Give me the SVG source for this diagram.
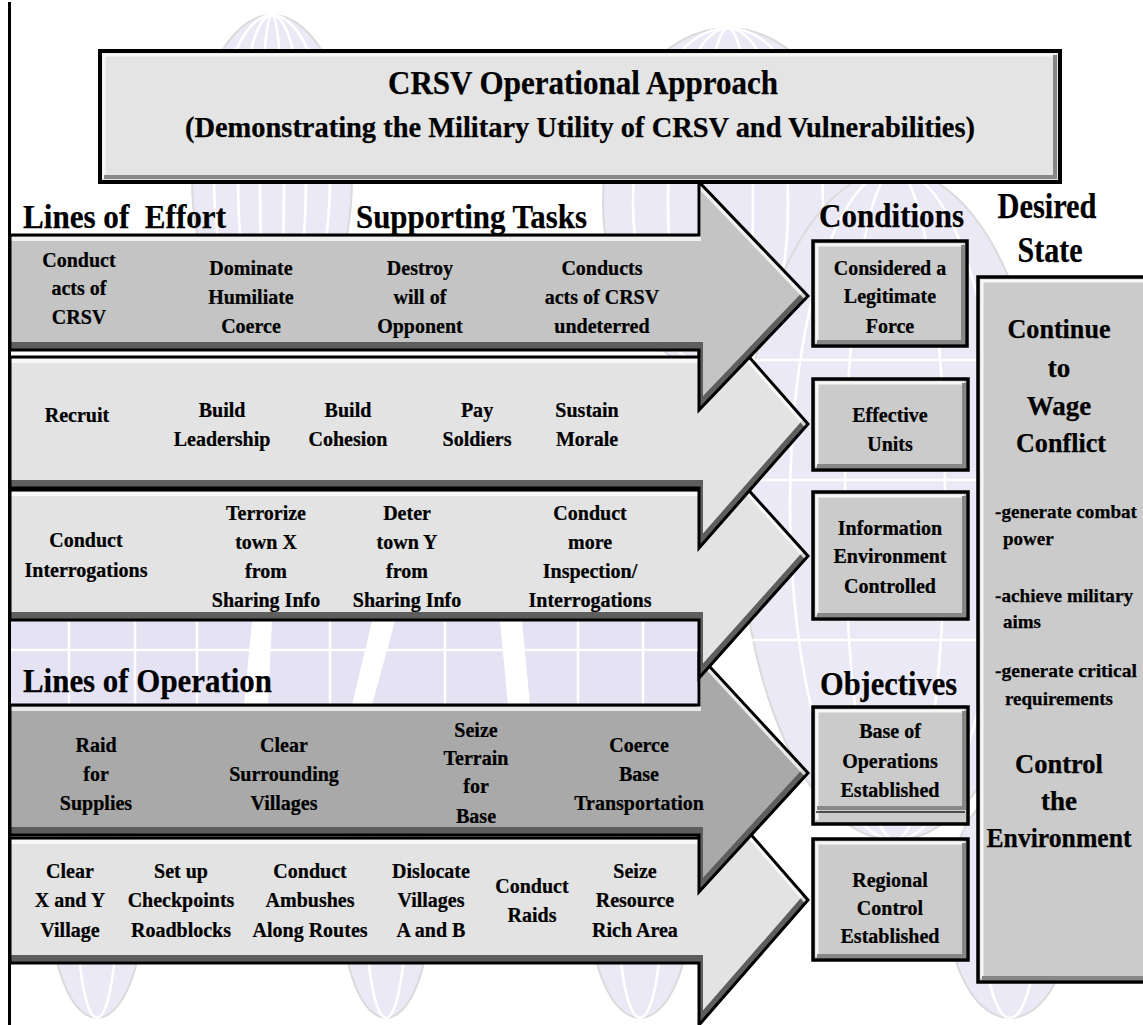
<svg xmlns="http://www.w3.org/2000/svg" width="1143" height="1025" viewBox="0 0 1143 1025">
<style>
.t{font-family:"Liberation Serif","Times New Roman",serif;font-weight:bold;fill:#000;stroke:#000;stroke-width:0.25;text-anchor:middle}
.s22{font-size:22px}
.hd{font-size:34px;text-anchor:start}
.ds{font-size:27px}
.sm{font-size:19px;text-anchor:start}
.ol{fill:none;stroke:#000;stroke-width:3;stroke-linejoin:miter}
.sh{fill:none;stroke:#5e5e5e;stroke-width:8}
.hl{fill:none;stroke:#fff;stroke-opacity:.75;stroke-width:4}
.lav{fill:#ece9f7;stroke:#dadada;stroke-width:2}
.wl{fill:none;stroke:#fff;stroke-width:2.5}
.box{fill:#cbcbcb;stroke:#000;stroke-width:3.5}
.bhl{fill:none;stroke:#f7f7f7;stroke-width:3}
.bsh{fill:none;stroke:#878787;stroke-width:4}
</style>
<defs>
<polygon id="p1" points="10,235 699,235 699,182 808,296 699,410 699,350 10,350"/>
<polygon id="p2" points="10,357 699,357 699,300 808,424 699,548 699,488 10,488"/>
<polygon id="p3" points="10,490 699,490 699,435 808,556 699,678 699,620 10,620"/>
<polygon id="p4" points="10,705 699,705 699,655 808,773 699,892 699,835 10,835"/>
<polygon id="p5" points="10,838 699,838 699,775 808,900 699,1025 699,963 10,963"/>
<clipPath id="c1"><use href="#p1"/></clipPath>
<clipPath id="c2"><use href="#p2"/></clipPath>
<clipPath id="c3"><use href="#p3"/></clipPath>
<clipPath id="c4"><use href="#p4"/></clipPath>
<clipPath id="c5"><use href="#p5"/></clipPath>
</defs>
<rect x="0" y="0" width="1143" height="1025" fill="#fff"/>
<g id="watermark">
<ellipse class="lav" cx="272" cy="178" rx="80" ry="163"/>
<ellipse class="wl" cx="272" cy="178" rx="58" ry="163"/>
<ellipse class="wl" cx="272" cy="178" rx="34" ry="163"/>
<ellipse class="wl" cx="272" cy="178" rx="12" ry="163"/>
<ellipse class="lav" cx="728" cy="202" rx="125" ry="174"/>
<ellipse class="wl" cx="728" cy="202" rx="95" ry="174"/>
<ellipse class="wl" cx="728" cy="202" rx="60" ry="174"/>
<ellipse class="wl" cx="728" cy="202" rx="25" ry="174"/>
<ellipse class="lav" cx="895" cy="505" rx="155" ry="335" fill="#e6e3f4"/>
<ellipse class="wl" cx="895" cy="505" rx="105" ry="335"/>
<ellipse class="wl" cx="895" cy="505" rx="50" ry="335"/>
<line class="wl" x1="740" y1="360" x2="1050" y2="360"/>
<line class="wl" x1="740" y1="480" x2="1050" y2="480"/>
<line class="wl" x1="740" y1="640" x2="1050" y2="640"/>
<rect x="10" y="621" width="689" height="84" fill="#e5e2f3"/>
<line class="wl" x1="10" y1="650" x2="699" y2="650"/>
<line class="wl" x1="69" y1="621" x2="69" y2="705"/>
<line class="wl" x1="135" y1="621" x2="135" y2="705"/>
<line class="wl" x1="197" y1="621" x2="197" y2="705"/>
<line class="wl" x1="330" y1="621" x2="330" y2="705"/>
<line class="wl" x1="445" y1="621" x2="445" y2="705"/>
<line class="wl" x1="578" y1="621" x2="578" y2="705"/>
<line class="wl" x1="643" y1="621" x2="643" y2="705"/>
<polygon points="252,621 272,621 268,705 244,705" fill="#fff"/>
<polygon points="372,621 395,621 372,705 352,705" fill="#fff"/>
<polygon points="500,621 522,621 530,705 508,705" fill="#fff"/>
<ellipse class="lav" cx="97" cy="905" rx="46" ry="113"/>
<ellipse class="wl" cx="97" cy="905" rx="20" ry="113"/>
<ellipse class="lav" cx="386" cy="905" rx="44" ry="113"/>
<ellipse class="wl" cx="386" cy="905" rx="20" ry="113"/>
<ellipse class="lav" cx="640" cy="905" rx="50" ry="113"/>
<ellipse class="wl" cx="640" cy="905" rx="22" ry="113"/>
<ellipse class="lav" cx="1010" cy="905" rx="62" ry="113"/>
<ellipse class="wl" cx="1010" cy="905" rx="28" ry="113"/>
</g>
<g id="connectors">
<g id="arrow-5">
<use href="#p5" fill="#e3e3e3"/>
<g clip-path="url(#c5)">
<path class="sh" d="M10,963 H699 V1025 L808,900" transform="translate(0,-4)"/>
<path class="hl" d="M10,838 H699 V775 L808,900" transform="translate(0,4)"/>
</g>
<use href="#p5" class="ol"/>
</g>
<g id="arrow-4">
<use href="#p4" fill="#a9a9a9"/>
<g clip-path="url(#c4)">
<path class="sh" d="M10,835 H699 V892 L808,773" transform="translate(0,-4)"/>
<path class="hl" d="M10,705 H699 V655 L808,773" transform="translate(0,4)"/>
</g>
<use href="#p4" class="ol"/>
</g>
<g id="arrow-3">
<use href="#p3" fill="#e3e3e3"/>
<g clip-path="url(#c3)">
<path class="sh" d="M10,620 H699 V678 L808,556" transform="translate(0,-4)"/>
<path class="hl" d="M10,490 H699 V435 L808,556" transform="translate(0,4)"/>
</g>
<use href="#p3" class="ol"/>
</g>
<g id="arrow-2">
<use href="#p2" fill="#e3e3e3"/>
<g clip-path="url(#c2)">
<path class="sh" d="M10,488 H699 V548 L808,424" transform="translate(0,-4)"/>
<path class="hl" d="M10,357 H699 V300 L808,424" transform="translate(0,4)"/>
</g>
<use href="#p2" class="ol"/>
</g>
<g id="arrow-1">
<use href="#p1" fill="#c4c4c4"/>
<g clip-path="url(#c1)">
<path class="sh" d="M10,350 H699 V410 L808,296" transform="translate(0,-4)"/>
<path class="hl" d="M10,235 H699 V182 L808,296" transform="translate(0,4)"/>
</g>
<use href="#p1" class="ol"/>
</g>
</g>
<line x1="9.5" y1="2" x2="9.5" y2="1025" stroke="#000" stroke-width="3"/>

<g id="row1-tasks" class="t s22" transform="scale(0.91,1)">
<text x="86.8" y="267">Conduct</text><text x="86.8" y="295">acts of</text><text x="86.8" y="324">CRSV</text>
<text x="275.8" y="275">Dominate</text><text x="275.8" y="304">Humiliate</text><text x="275.8" y="333">Coerce</text>
<text x="461.5" y="275">Destroy</text><text x="461.5" y="304">will of</text><text x="461.5" y="333">Opponent</text>
<text x="661.5" y="275">Conducts</text><text x="661.5" y="304">acts of CRSV</text><text x="661.5" y="333">undeterred</text>
</g>
<g id="row2-tasks" class="t s22" transform="scale(0.91,1)">
<text x="84.6" y="422">Recruit</text>
<text x="244" y="417">Build</text><text x="244" y="446">Leadership</text>
<text x="382.4" y="417">Build</text><text x="382.4" y="446">Cohesion</text>
<text x="524.2" y="417">Pay</text><text x="524.2" y="446">Soldiers</text>
<text x="645.1" y="417">Sustain</text><text x="645.1" y="446">Morale</text>
</g>
<g id="row3-tasks" class="t s22" transform="scale(0.91,1)">
<text x="94.5" y="547">Conduct</text><text x="94.5" y="577">Interrogations</text>
<text x="292.3" y="520">Terrorize</text><text x="292.3" y="549">town X</text><text x="292.3" y="578">from</text><text x="292.3" y="607">Sharing Info</text>
<text x="447.3" y="520">Deter</text><text x="447.3" y="549">town Y</text><text x="447.3" y="578">from</text><text x="447.3" y="607">Sharing Info</text>
<text x="648.4" y="520">Conduct</text><text x="648.4" y="549">more</text><text x="648.4" y="578">Inspection/</text><text x="648.4" y="607">Interrogations</text>
</g>
<g id="row4-tasks" class="t s22" transform="scale(0.91,1)">
<text x="105.5" y="752">Raid</text><text x="105.5" y="781">for</text><text x="105.5" y="810">Supplies</text>
<text x="312.1" y="752">Clear</text><text x="312.1" y="781">Surrounding</text><text x="312.1" y="810">Villages</text>
<text x="523.1" y="737">Seize</text><text x="523.1" y="765">Terrain</text><text x="523.1" y="793">for</text><text x="523.1" y="823">Base</text>
<text x="702.2" y="752">Coerce</text><text x="702.2" y="781">Base</text><text x="702.2" y="810">Transportation</text>
</g>
<g id="row5-tasks" class="t s22" transform="scale(0.91,1)">
<text x="76.9" y="878">Clear</text><text x="76.9" y="907">X and Y</text><text x="76.9" y="937">Village</text>
<text x="198.9" y="878">Set up</text><text x="198.9" y="907">Checkpoints</text><text x="198.9" y="937">Roadblocks</text>
<text x="340.7" y="878">Conduct</text><text x="340.7" y="907">Ambushes</text><text x="340.7" y="937">Along Routes</text>
<text x="473.6" y="878">Dislocate</text><text x="473.6" y="907">Villages</text><text x="473.6" y="937">A and B</text>
<text x="584.6" y="893">Conduct</text><text x="584.6" y="922">Raids</text>
<text x="697.8" y="878">Seize</text><text x="697.8" y="907">Resource</text><text x="697.8" y="937">Rich Area</text>
</g>

<g id="title">
<rect x="100" y="51" width="960" height="131" fill="#e4e4e4" stroke="#000" stroke-width="4"/>
<polyline class="bhl" points="104,178 104,55 1056,55"/>
<polyline class="bsh" points="104,177 1055,177 1055,55"/>
<text class="t" x="583" y="94" font-size="33" textLength="390" lengthAdjust="spacingAndGlyphs">CRSV Operational Approach</text>
<text class="t" x="580" y="137" font-size="30" textLength="790" lengthAdjust="spacingAndGlyphs">(Demonstrating the Military Utility of CRSV and Vulnerabilities)</text>
</g>

<g id="headings" class="t">
<text class="hd" x="23" y="228" xml:space="preserve" textLength="203" lengthAdjust="spacingAndGlyphs">Lines of  Effort</text>
<text class="hd" x="356" y="228" textLength="231" lengthAdjust="spacingAndGlyphs">Supporting Tasks</text>
<text class="hd" x="819" y="227" textLength="145" lengthAdjust="spacingAndGlyphs">Conditions</text>
<text x="1047" y="218" font-size="35" textLength="99" lengthAdjust="spacingAndGlyphs">Desired</text>
<text x="1050" y="262" font-size="35" textLength="65" lengthAdjust="spacingAndGlyphs">State</text>
<text class="hd" x="23" y="692" textLength="249" lengthAdjust="spacingAndGlyphs">Lines of Operation</text>
<text class="hd" x="820" y="695" textLength="137" lengthAdjust="spacingAndGlyphs">Objectives</text>
</g>

<g id="cond-legitimate">
<rect class="box" x="813" y="241" width="154" height="105" stroke="#1f3a60"/>
<polyline class="bhl" points="817,342 817,245 963,245"/>
<polyline class="bsh" points="817,342 963,342 963,245"/>
<g class="t s22" transform="scale(0.91,1)"><text x="978" y="275">Considered a</text><text x="978" y="303">Legitimate</text><text x="978" y="333">Force</text></g>
</g>
<g id="cond-effective">
<rect class="box" x="813" y="379" width="155" height="91"/>
<polyline class="bhl" points="817,466 817,383 964,383"/>
<polyline class="bsh" points="817,466 964,466 964,383"/>
<g class="t s22" transform="scale(0.91,1)"><text x="978" y="422">Effective</text><text x="978" y="451">Units</text></g>
</g>
<g id="cond-information">
<rect class="box" x="813" y="492" width="155" height="127"/>
<polyline class="bhl" points="817,615 817,496 964,496"/>
<polyline class="bsh" points="817,615 964,615 964,496"/>
<g class="t s22" transform="scale(0.91,1)"><text x="978" y="535">Information</text><text x="978" y="563">Environment</text><text x="978" y="593">Controlled</text></g>
</g>
<g id="obj-base">
<rect class="box" x="813" y="707" width="155" height="117"/>
<polyline class="bhl" points="817,820 817,711 964,711"/>
<polyline class="bsh" points="817,808 964,808 964,711"/>
<line x1="816" y1="812" x2="965" y2="812" stroke="#222" stroke-width="1.5"/>
<g class="t s22" transform="scale(0.91,1)"><text x="978" y="738">Base of</text><text x="978" y="768">Operations</text><text x="978" y="797">Established</text></g>
</g>
<g id="obj-regional">
<rect class="box" x="813" y="839" width="155" height="121"/>
<polyline class="bhl" points="817,956 817,843 964,843"/>
<polyline class="bsh" points="817,956 964,956 964,843"/>
<g class="t s22" transform="scale(0.91,1)"><text x="978" y="887">Regional</text><text x="978" y="915">Control</text><text x="978" y="943">Established</text></g>
</g>

<g id="desired-state">
<rect class="box" x="978" y="277" width="175" height="705"/>
<polyline class="bhl" points="982,978 982,281 1150,281"/>
<polyline class="bsh" points="982,978 1150,978"/>
<g class="t ds">
<text x="1059" y="338" textLength="103" lengthAdjust="spacingAndGlyphs">Continue</text><text x="1059" y="377">to</text><text x="1059" y="415">Wage</text><text x="1061" y="452" textLength="90" lengthAdjust="spacingAndGlyphs">Conflict</text>
<text x="1059" y="773" textLength="88" lengthAdjust="spacingAndGlyphs">Control</text><text x="1059" y="810">the</text><text x="1059" y="847" textLength="145" lengthAdjust="spacingAndGlyphs">Environment</text>
</g>
<g class="t sm">
<text x="995" y="518" textLength="142" lengthAdjust="spacingAndGlyphs">-generate combat</text><text x="1003" y="545">power</text>
<text x="995" y="602" textLength="138" lengthAdjust="spacingAndGlyphs">-achieve military</text><text x="1003" y="628">aims</text>
<text x="995" y="677" textLength="142" lengthAdjust="spacingAndGlyphs">-generate critical</text><text x="1005" y="705">requirements</text>
</g>
</g>
</svg>
